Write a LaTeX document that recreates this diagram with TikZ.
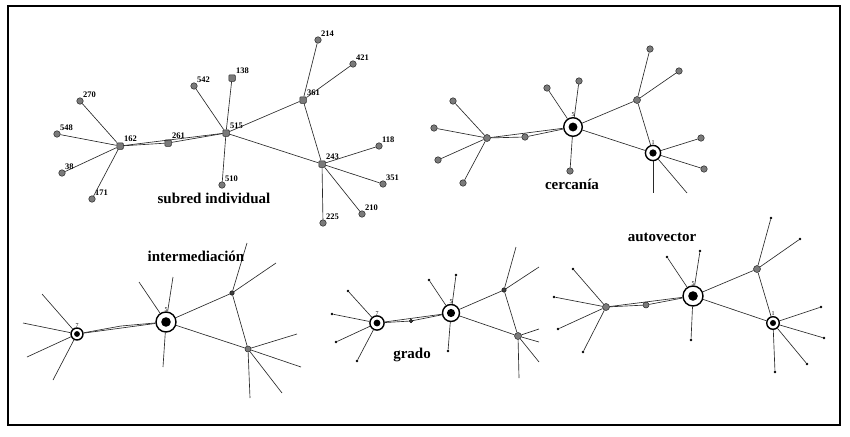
\documentclass[tikz,border=0pt]{standalone}
\usepackage{fontspec}
\setmainfont{Liberation Serif}
\definecolor{dotGray}{HTML}{7A7A7A}
\definecolor{lineGray}{HTML}{2A2A2A}

\tikzset{
    link/.style={draw=lineGray, line width=0.65pt},
    leaf/.style={circle, draw=black!85, fill=dotGray, line width=0.5pt, inner sep=0pt, minimum size=6.5pt},
    hubsq/.style={rectangle, rounded corners=1pt, draw=black!85, fill=dotGray, line width=0.5pt, inner sep=0pt, minimum size=6.5pt},
    num/.style={font=\bfseries\fontsize{8.5}{8.5}\selectfont, inner sep=0.5pt},
    nleaf/.style={leaf, label distance=4pt, label={[num]45:#1}},
    nhub/.style={hubsq, label distance=4pt, label={[num]45:#1}},
    hubdot/.style={circle, draw=black!85, fill=dotGray, line width=0.5pt, inner sep=0pt, minimum size=#1},
    hubdot/.default=7pt,
    knot/.style={circle, draw=black, fill=black!75, inner sep=0pt, minimum size=4.5pt},
    tip/.style={circle, fill=black, inner sep=0pt, minimum size=2.6pt},
    ring/.style={circle, draw=black, line width=1.4pt, fill=white, inner sep=0pt, minimum size=#1,
        label distance=5pt,
        path picture={\fill[black] (path picture bounding box.center) circle (0.24*#1);}},
    rlabel/.style={font=\fontsize{6}{6}\selectfont, inner sep=0pt},
    title/.style={font=\bfseries\fontsize{15}{15}\selectfont, inner sep=1pt}
}

\begin{document}
\begin{tikzpicture}[x=1pt, y=-1pt]
    \useasboundingbox (0,0) rectangle (850,436);
    \draw[line width=2pt] (8,6) rectangle (840,425);

    % subred individual
    \node[nhub=162] (s162) at (120,146) {};
    \node[nhub=261] (s261) at (168,143) {};
    \node[nhub=515] (s515) at (226,133) {};
    \node[nhub=361] (s361) at (303,100) {};
    \node[nhub=243] (s243) at (322,164) {};
    \node[nhub=138] (s138) at (232,78) {};
    \foreach \n/\x/\y in {270/80/101, 548/57/134, 38/62/173, 171/92/199,
                          542/194/86, 510/222/185, 214/318/40, 421/353/64,
                          118/379/146, 351/383/184, 210/362/214, 225/323/223}
        \node[nleaf=\n] (s\n) at (\x,\y) {};
    \foreach \a/\b in {162/270, 162/548, 162/38, 162/171, 162/261, 261/515, 162/515,
                       515/542, 515/138, 515/510, 515/361, 515/243,
                       361/214, 361/421, 361/243,
                       243/118, 243/351, 243/210, 243/225}
        \draw[link] (s\a) -- (s\b);
    \node[title] (t1) at (214,198) {subred individual};

    % cercania
    \node[hubdot] (ch) at (487,138) {};
    \node[hubdot=6.5pt] (cm) at (525,137) {};
    \node[ring=18.6pt, label={[rlabel]above:5}] (c5) at (573,127) {};
    \node[hubdot] (cr) at (637,100) {};
    \node[ring=15.2pt, label={[rlabel]above:1}] (c1) at (653,153) {};
    \foreach \n/\x/\y in {1/453/101, 2/434/128, 3/438/160, 4/463/183}
        \node[leaf] (cl\n) at (\x,\y) {};
    \foreach \n/\x/\y in {1/547/88, 2/579/81, 3/570/171}
        \node[leaf] (cf\n) at (\x,\y) {};
    \foreach \n/\x/\y in {1/650/49, 2/679/71}
        \node[leaf] (ct\n) at (\x,\y) {};
    \foreach \n/\x/\y in {1/701/138, 2/704/169}
        \node[leaf] (co\n) at (\x,\y) {};
    \coordinate (cx1) at (653,193);
    \coordinate (cx2) at (687,193);
    \foreach \n in {1,...,4}
        \draw[link] (ch) -- (cl\n);
    \foreach \n in {1,2,3}
        \draw[link] (c5) -- (cf\n);
    \foreach \n in {1,2}
        \draw[link] (cr) -- (ct\n);
    \foreach \n in {1,2}
        \draw[link] (c1) -- (co\n);
    \draw[link] (ch) -- (cm) -- (c5);
    \draw[link] (ch) -- (c5);
    \draw[link] (c5) -- (cr) -- (c1) -- (c5);
    \draw[link] (c1) -- (cx1);
    \draw[link] (c1) -- (cx2);
    \node[title] (t2) at (572,184) {cercanía};

    % intermediacion
    \node[ring=12pt, label={[rlabel]above:7}] (i7) at (77,334) {};
    \coordinate (im) at (121,326);
    \node[ring=20pt, label={[rlabel]above:5}] (i5) at (166,322) {};
    \node[knot] (it) at (232,293) {};
    \node[hubdot=6pt] (ib) at (248,349) {};
    \foreach \n/\x/\y in {1/42/294, 2/23/323, 3/27/357, 4/53/380}
        \coordinate (il\n) at (\x,\y);
    \foreach \n/\x/\y in {1/139/282, 2/173/277, 3/163/367}
        \coordinate (if\n) at (\x,\y);
    \foreach \n/\x/\y in {1/247/243, 2/276/263}
        \coordinate (iu\n) at (\x,\y);
    \foreach \n/\x/\y in {1/297/334, 2/301/367, 3/282/393, 4/250/398}
        \coordinate (id\n) at (\x,\y);
    \foreach \n in {1,...,4}
        \draw[link] (i7) -- (il\n);
    \foreach \n in {1,2,3}
        \draw[link] (i5) -- (if\n);
    \foreach \n in {1,2}
        \draw[link] (it) -- (iu\n);
    \foreach \n in {1,...,4}
        \draw[link] (ib) -- (id\n);
    \draw[link] (i7) -- (im) -- (i5);
    \draw[link] (i7) -- (i5);
    \draw[link] (i5) -- (it) -- (ib) -- (i5);
    \node[title] (t3) at (196,256) {intermediación};

    % grado
    \node[ring=14.2pt, label={[rlabel]above:7}] (g7) at (377,323) {};
    \node[knot, minimum size=3.5pt] (gm) at (411,321) {};
    \node[ring=17pt, label={[rlabel]above:5}] (g5) at (451,313) {};
    \node[knot] (gt) at (504,290) {};
    \node[hubdot] (gb) at (518,336) {};
    \foreach \n/\x/\y in {1/348/291, 2/332/314, 3/336/342, 4/357/361}
        \node[tip] (gl\n) at (\x,\y) {};
    \foreach \n/\x/\y in {1/429/280, 2/456/275, 3/448/351}
        \node[tip] (gf\n) at (\x,\y) {};
    \foreach \n/\x/\y in {1/516/247, 2/539/267}
        \coordinate (gu\n) at (\x,\y);
    \foreach \n/\x/\y in {1/539/329, 2/539/342, 3/539/362, 4/519/378}
        \coordinate (gd\n) at (\x,\y);
    \foreach \n in {1,...,4}
        \draw[link] (g7) -- (gl\n);
    \foreach \n in {1,2,3}
        \draw[link] (g5) -- (gf\n);
    \foreach \n in {1,2}
        \draw[link] (gt) -- (gu\n);
    \foreach \n in {1,...,4}
        \draw[link] (gb) -- (gd\n);
    \draw[link] (g7) -- (gm) -- (g5);
    \draw[link] (g7) -- (g5);
    \draw[link] (g5) -- (gt) -- (gb) -- (g5);
    \node[title] (t4) at (412,355) {grado};

    % autovector
    \node[hubdot] (ah) at (606,307) {};
    \node[hubdot=6pt] (am) at (646,305) {};
    \node[ring=20pt, label={[rlabel]above:5}] (a5) at (693,296) {};
    \node[hubdot] (ar) at (757,269) {};
    \node[ring=12.6pt, label={[rlabel]above:1}] (a1) at (773,323) {};
    \foreach \n/\x/\y in {1/573/269, 2/554/297, 3/558/329, 4/583/352}
        \node[tip] (al\n) at (\x,\y) {};
    \foreach \n/\x/\y in {1/667/257, 2/700/251, 3/691/340}
        \node[tip] (af\n) at (\x,\y) {};
    \foreach \n/\x/\y in {1/771/218, 2/800/239}
        \node[tip] (at\n) at (\x,\y) {};
    \foreach \n/\x/\y in {1/821/307, 2/824/338, 3/807/364, 4/775/372}
        \node[tip] (ao\n) at (\x,\y) {};
    \foreach \n in {1,...,4}
        \draw[link] (ah) -- (al\n);
    \foreach \n in {1,2,3}
        \draw[link] (a5) -- (af\n);
    \foreach \n in {1,2}
        \draw[link] (ar) -- (at\n);
    \foreach \n in {1,...,4}
        \draw[link] (a1) -- (ao\n);
    \draw[link] (ah) -- (am) -- (a5);
    \draw[link] (ah) -- (a5);
    \draw[link] (a5) -- (ar) -- (a1) -- (a5);
    \node[title] (t5) at (662,237) {autovector};
\end{tikzpicture}
\end{document}
